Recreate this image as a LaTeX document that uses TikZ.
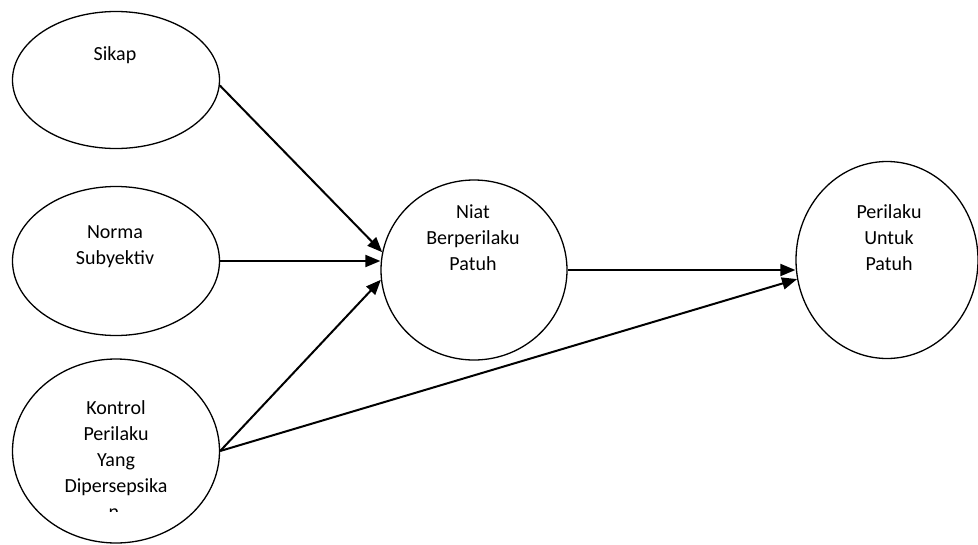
\documentclass[tikz,border=0pt]{standalone}
\usepackage{fontspec}
\setmainfont{Carlito}
\usetikzlibrary{arrows.meta,shapes.geometric}
\begin{document}
\begin{tikzpicture}[x=1pt,y=-1pt,
  shp/.style={draw=black,line width=1.3pt,ellipse,inner sep=0pt},
  txt/.style={font=\fontsize{20}{26}\selectfont,align=center,inner sep=0pt,anchor=base},
  arr/.style={line width=2pt,-{Triangle[length=15pt,width=12pt]}}]
\useasboundingbox (0,0) rectangle (978,544);
\node[shp,minimum width=207pt,minimum height=137pt] (sikap) at (116,80) {};
\node[shp,minimum width=207pt,minimum height=149pt] (norma) at (116,261) {};
\node[shp,minimum width=207pt,minimum height=184pt] (kontrol) at (116,451) {};
\node[shp,minimum width=186pt,minimum height=180pt] (niat) at (474,270) {};
\node[shp,minimum width=182pt,minimum height=197pt] (perilaku) at (887,260) {};
\node[txt] (tsikap) at (115,60) {Sikap};
\node[txt] (tnorma) at (115,264) {Norma\\Subyektiv};
\node[txt] (tkontrol) at (116,492) {Kontrol\\Perilaku\\Yang\\Dipersepsika};
\node[txt] (tniat) at (473,270) {Niat\\Berperilaku\\Patuh};
\node[txt] (tperilaku) at (889,270) {Perilaku\\Untuk\\Patuh};
\begin{scope}
\clip (60,500) rectangle (170,511);
\node[txt] (tn) at (114,518) {n};
\end{scope}
\draw[arr] (sikap.-3) -- (niat.169);
\draw[arr] (norma.east) -- (norma.east -| niat.west);
\draw[arr] (kontrol.east) -- (niat.186);
\draw[arr] (niat.east) -- (niat.east -| perilaku.west);
\draw[arr] (kontrol.east) -- (perilaku.192);
\end{tikzpicture}
\end{document}
